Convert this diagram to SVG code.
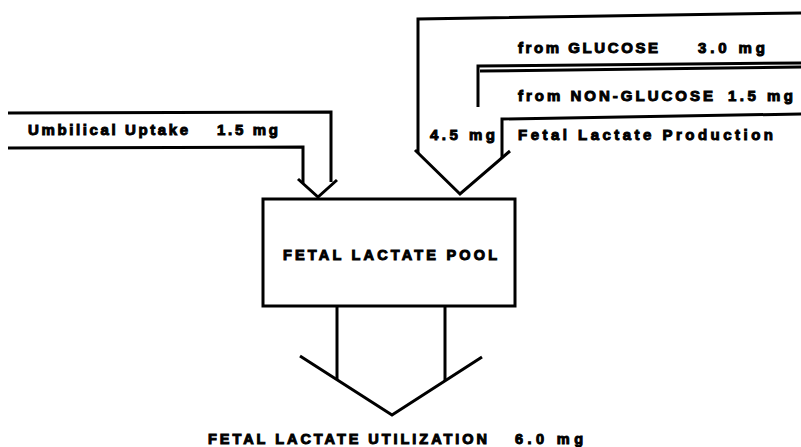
<svg xmlns="http://www.w3.org/2000/svg" width="801" height="447" viewBox="0 0 801 447">
<style>
.ln{fill:none;stroke:#000;stroke-width:3;stroke-linejoin:miter;stroke-linecap:butt}
.t{font-family:"Liberation Sans",Arial,sans-serif;font-weight:bold;font-size:15px;fill:#000;stroke:#000;stroke-width:1}
.c{font-size:14.5px}
</style>
<rect width="801" height="447" fill="#fff"/>
<g id="connectors">
<g id="umbilical-arrow">
<path class="ln" d="M8,113 L331,112 L331,182"/>
<path class="ln" d="M8,148 L303,147 L303,183"/>
<path class="ln" d="M298,179 L318,197 L337,180"/>
</g>
<g id="production-arrow">
<path class="ln" d="M801,13 L418,19 L418,153"/>
<path class="ln" d="M801,114 L502,119 L502,158"/>
<path class="ln" d="M415,150 L460,194 L510,151"/>
<path class="ln" d="M801,63 L478,66 L478,107"/>
<path class="ln" d="M801,67 L480,71"/>
</g>
<g id="utilization-arrow">
<path class="ln" d="M337,307 L337,380"/>
<path class="ln" d="M445,307 L445,381"/>
<path class="ln" d="M300,356 L392,415 L482,357"/>
</g>
</g>
<g id="pool">
<rect class="ln" x="263" y="199" width="252" height="107"/>
<text class="t c" x="283" y="260" textLength="214" lengthAdjust="spacing">FETAL LACTATE POOL</text>
</g>
<g id="umbilical-label">
<text class="t"><tspan x="28" y="135" textLength="160" lengthAdjust="spacing">Umbilical Uptake</tspan><tspan x="217" y="135" textLength="61" lengthAdjust="spacing">1.5 mg</tspan></text>
</g>
<g id="glucose-label">
<text class="t"><tspan x="518" y="53" textLength="140" lengthAdjust="spacing">from GLUCOSE</tspan><tspan x="698" y="53" textLength="67" lengthAdjust="spacing">3.0 mg</tspan></text>
</g>
<g id="nonglucose-label">
<text class="t"><tspan x="518" y="101" textLength="195" lengthAdjust="spacing">from NON-GLUCOSE</tspan><tspan x="728" y="101" textLength="65" lengthAdjust="spacing">1.5 mg</tspan></text>
</g>
<g id="production-label">
<text class="t" x="430" y="140" textLength="65" lengthAdjust="spacing">4.5 mg</text>
<text class="t" x="518" y="140" textLength="255" lengthAdjust="spacing">Fetal Lactate Production</text>
</g>
<g id="utilization-label">
<text class="t c"><tspan x="208" y="444" textLength="279" lengthAdjust="spacing">FETAL LACTATE UTILIZATION</tspan><tspan x="515" y="444" textLength="68" lengthAdjust="spacing">6.0 mg</tspan></text>
</g>
</svg>
